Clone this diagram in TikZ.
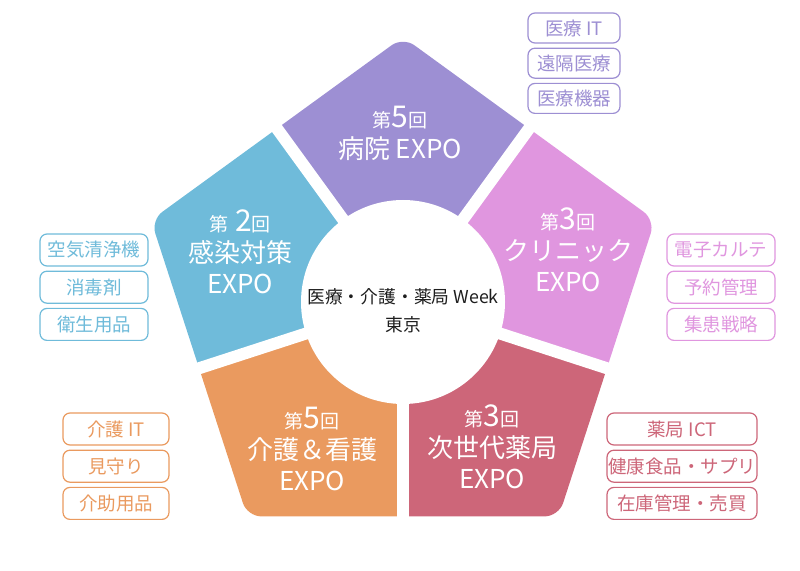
\documentclass[tikz,border=0pt]{standalone}
\usepackage{fontspec}
\setmainfont{Noto Sans CJK JP}
\usetikzlibrary{calc,positioning}
\definecolor{hosp}{HTML}{9D8FD3}
\definecolor{infect}{HTML}{6FBBDA}
\definecolor{clinic}{HTML}{E096DF}
\definecolor{pharm}{HTML}{CD6679}
\definecolor{care}{HTML}{EA9A5F}
\definecolor{ink}{HTML}{1E1E1E}
\tikzset{
  every node/.style={text=white},
  title/.style={align=center,font=\fontsize{26}{31}\selectfont,text=white,inner sep=0pt},
  tag/.style={draw,fill=white,rounded corners=7pt,line width=1.2pt,align=center,
    font=\fontsize{18.5}{20}\selectfont,minimum height=30pt,inner sep=1pt},
  hosptag/.style={tag,draw=hosp,text=hosp,minimum width=92pt},
  infecttag/.style={tag,draw=infect,text=infect,minimum width=108pt,minimum height=32pt},
  clinictag/.style={tag,draw=clinic,text=clinic,minimum width=108pt,minimum height=32pt},
  caretag/.style={tag,draw=care,text=care,minimum width=106pt,minimum height=32pt},
  pharmtag/.style={tag,draw=pharm,text=pharm,minimum width=150pt,minimum height=32pt},
  gap/.style={draw=white,line width=12pt},
  hub/.style={circle,fill=white,minimum size=204pt,inner sep=0pt},
}
\newcommand{\roundno}[1]{{\fontsize{19}{20}\selectfont 第}{\fontsize{30}{30}\selectfont #1}{\fontsize{19}{20}\selectfont 回}}

\begin{document}
\begin{tikzpicture}[x=1pt,y=1pt,node distance=4pt]
\useasboundingbox (0,0) rectangle (800,570);
\coordinate (C) at (403,268);
\foreach \a [count=\i] in {90,18,-54,-126,162}
  \coordinate (v\i) at ($(C)+(\a:265)$);

% five segments of the pentagon
\foreach \a/\col in {90/hosp,18/clinic,-54/pharm,-126/care,162/infect}{
  \begin{scope}
    \clip (C) -- ($(C)+(\a-36:330)$) -- ($(C)+(\a:420)$) -- ($(C)+(\a+36:330)$) -- cycle;
    \fill[\col,rounded corners=14pt] (v1) -- (v2) -- (v3) -- (v4) -- (v5) -- cycle;
  \end{scope}
}
\foreach \a in {54,126,198,270,342}
  \draw[gap] (C) -- ($(C)+(\a:300)$);
\node[hub] (hub) at (C) {};
\node[text=ink,align=center,font=\fontsize{17.8}{28}\selectfont] (week) at ($(C)+(0,-9)$)
  {医療・介護・薬局 Week\\東京};

% expo titles
\node[title] (hospital) at (400,437) {\roundno{5}\\病院 EXPO};
\node[title] (infection) at (240,318) {\roundno{ 2}\\感染対策\\EXPO};
\node[title] (clinicexpo) at (568,320) {\roundno{3}\\クリニック\\EXPO};
\node[title] (nursing) at (312,121) {\roundno{5}\\介護＆看護\\EXPO};
\node[title] (pharmacy) at (492,123) {\roundno{3}\\次世代薬局\\EXPO};

% tags
\node[hosptag] (h1) at (574,542) {医療 IT};
\node[hosptag,below=of h1] (h2) {遠隔医療};
\node[hosptag,below=of h2] (h3) {医療機器};
\node[infecttag] (i1) at (94,320) {空気清浄機};
\node[infecttag,below=of i1] (i2) {消毒剤};
\node[infecttag,below=of i2] (i3) {衛生用品};
\node[clinictag] (c1) at (721,320) {電子カルテ};
\node[clinictag,below=of c1] (c2) {予約管理};
\node[clinictag,below=of c2] (c3) {集患戦略};
\node[caretag] (n1) at (116,141) {介護 IT};
\node[caretag,below=of n1] (n2) {見守り};
\node[caretag,below=of n2] (n3) {介助用品};
\node[pharmtag] (p1) at (682,141) {薬局 ICT};
\node[pharmtag,below=of p1] (p2) {健康食品・サプリ};
\node[pharmtag,below=of p2] (p3) {在庫管理・売買};
\end{tikzpicture}
\end{document}
